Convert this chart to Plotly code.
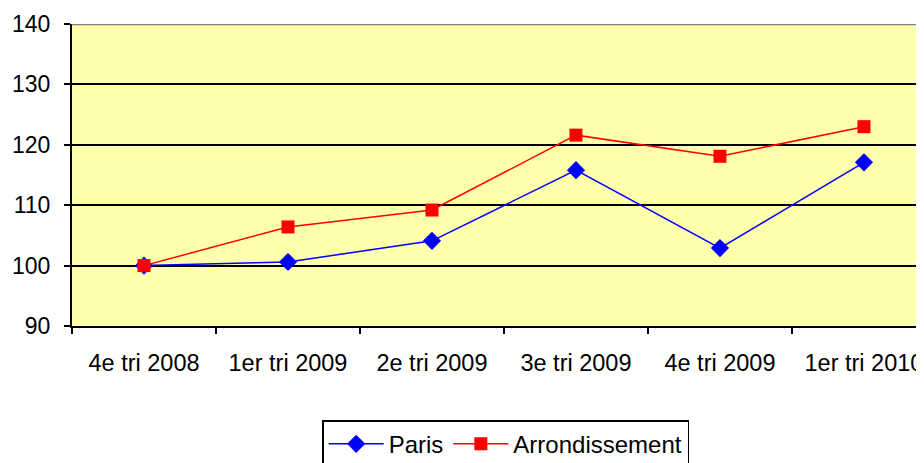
import plotly.graph_objects as go

categories = ["4e tri 2008", "1er tri 2009", "2e tri 2009", "3e tri 2009", "4e tri 2009", "1er tri 2010"]
paris = [100.0, 100.6, 104.1, 115.8, 102.9, 117.1]
arrondissement = [100.0, 106.4, 109.2, 121.6, 118.1, 123.0]

fig = go.Figure()
fig.add_trace(go.Scatter(x=categories, y=paris, name="Paris", mode="lines+markers",
                         line=dict(color="#0000FF", width=1.5),
                         marker=dict(symbol="diamond", size=14, color="#0000FF")))
fig.add_trace(go.Scatter(x=categories, y=arrondissement, name="Arrondissement", mode="lines+markers",
                         line=dict(color="#FF0000", width=1.5),
                         marker=dict(symbol="square", size=13, color="#FF0000")))

# grey frame line along the top of the plot area
fig.add_shape(type="line", xref="paper", yref="y", x0=0, x1=1, y0=140, y1=140,
              line=dict(color="#808080", width=2.5))

# page body has an 8px margin, so the figure is shifted by that much
fig.update_layout(
    width=916, height=455,
    margin=dict(l=64, r=0, t=16, b=137, autoexpand=False),
    paper_bgcolor="white",
    plot_bgcolor="#FFFFAC",
    font=dict(family="Liberation Sans, Arial", size=24, color="black"),
    showlegend=True,
    legend=dict(orientation="h", x=0.509, xanchor="center", y=-0.312, yanchor="top",
                bordercolor="black", borderwidth=1.5, bgcolor="white",
                font=dict(size=24), itemwidth=55),
)
fig.update_xaxes(type="category", range=[-0.5, 5.417], tickson="boundaries",
                 ticks="outside", ticklen=6, tickcolor="black", tickwidth=1.5,
                 showline=True, linecolor="black", linewidth=2, showgrid=False,
                 automargin=False, ticklabelstandoff=15, tickfont=dict(size=23.5))
fig.update_yaxes(range=[90, 140], dtick=10, ticks="outside", ticklen=6,
                 tickcolor="black", tickwidth=1.5, showline=True, linecolor="black",
                 linewidth=2, gridcolor="black", gridwidth=1.5, zeroline=False,
                 automargin=False, ticklabelstandoff=9, tickfont=dict(size=23))

fig.write_html("out.html")
